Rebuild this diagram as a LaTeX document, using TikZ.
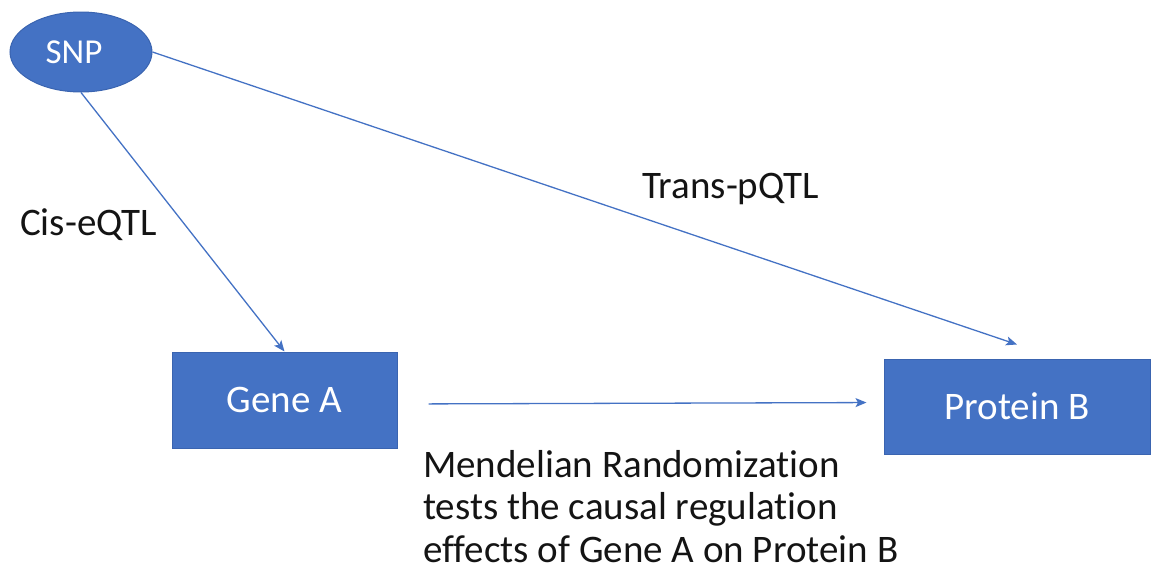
\documentclass[tikz,border=0pt]{standalone}
\usepackage{fontspec}
\setmainfont[Ligatures={NoCommon}]{Carlito}
\usetikzlibrary{arrows.meta,positioning,shapes.geometric}
\definecolor{officeblue}{HTML}{4472C4}
\definecolor{officeedge}{HTML}{3A64B0}
\definecolor{inktext}{HTML}{141414}
\tikzset{
  bluebox/.style={draw=officeedge, line width=1pt, fill=officeblue, text=white,
    inner sep=0pt, font=\fontsize{39}{42}\selectfont},
  plainlabel/.style={inner sep=0pt, text=inktext, font=\fontsize{39}{42.5}\selectfont},
  link/.style={draw=officeblue, line width=1.3pt,
    -{Stealth[length=11pt, width=9pt, inset=2.5pt]}}
}
\begin{document}
\begin{tikzpicture}[x=1pt, y=-1pt]
  \useasboundingbox (0,0) rectangle (1154,573);
  % entities
  \node[bluebox, ellipse, minimum width=142pt, minimum height=80pt,
        font=\fontsize{35}{40}\selectfont] (snp) at (81,52) {\hspace*{-14pt}SNP};
  \node[bluebox, rectangle, minimum width=225pt, minimum height=96pt] (geneA) at (284.5,400) {Gene A};
  \node[bluebox, rectangle, minimum width=266pt, minimum height=95pt] (proteinB) at (1017,406.5) {Protein B};
  % edge labels
  \node[plainlabel, anchor=base west] (cislab) at (20,235) {Cis-eQTL};
  \node[plainlabel, anchor=base west] (translab) at (642,198) {Trans-pQTL};
  \node[plainlabel, anchor=base west, align=left] (mrlab) at (423,562)
    {Mendelian Randomization\\tests the causal regulation\\effects of Gene A on Protein B};
  % connectors
  \coordinate (pbtarget) at ([yshift=14pt]proteinB.north);
  \draw[link] (snp.south) -- (geneA.north);
  \draw[link] (snp.east) -- (pbtarget);
  \draw[link, shorten <=31pt, shorten >=17pt] ([yshift=-4pt]geneA.east) -- ([yshift=4pt]proteinB.west);
\end{tikzpicture}
\end{document}
